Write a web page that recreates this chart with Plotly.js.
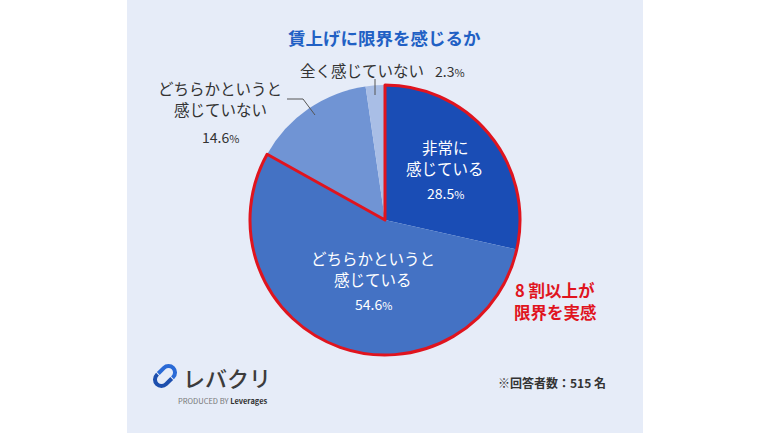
<!DOCTYPE html>
<html>
<head>
<meta charset="utf-8">
<script src="https://cdn.plot.ly/plotly-3.0.1.min.js"></script>
<style>
  html, body { margin: 0; padding: 0; background: #ffffff; }
  #chart { width: 770px; height: 433px; }
</style>
</head>
<body>
<div id="chart"></div>
<script>
// ── 賃上げに限界を感じるか（n=515） ─────────────────────────────
const categories = ['非常に感じている', 'どちらかというと感じている', 'どちらかというと感じていない', '全く感じていない'];
const shares = [28.5, 54.6, 14.6, 2.3];
const sliceColors = ['#1a4db5', '#4472c4', '#7094d4', '#a9bee6'];
const respondents = 515;

const W = 770, H = 433;
const FONT = '"Noto Sans CJK JP", "Noto Sans", sans-serif';
const px = x => x / W;
const py = y => 1 - y / H;

// 8割以上 = 上位2区分の合計
const feelTotal = shares[0] + shares[1];
const restTotal = shares[2] + shares[3];

const pieDomain = { x: [px(250), px(520)], y: [py(355), py(85)] };

const traces = [
  {
    type: 'pie', values: shares, labels: categories, sort: false,
    direction: 'clockwise', rotation: 0, domain: pieDomain,
    marker: { colors: sliceColors, line: { width: 0 } },
    textinfo: 'none', hoverinfo: 'skip', showlegend: false
  },
  {
    type: 'pie', values: [feelTotal, restTotal], labels: ['感じている', '感じていない'],
    sort: false, direction: 'clockwise', rotation: 0, domain: pieDomain,
    marker: { colors: ['rgba(0,0,0,0)', 'rgba(0,0,0,0)'],
              line: { color: ['#e0141e', 'rgba(0,0,0,0)'], width: [3, 0] } },
    textinfo: 'none', hoverinfo: 'skip', showlegend: false
  }
];

const pct = (v, sm) => `${v.toFixed(1)}<span style="font-size:${sm}px">%</span>`;

function txt(x, y, text, opts = {}) {
  return {
    xref: 'paper', yref: 'paper', x: px(x), y: py(y), text: text,
    showarrow: false, xanchor: opts.anchor || 'center', yanchor: 'middle',
    align: opts.align || 'center',
    font: { family: FONT, size: opts.size || 15.5, color: opts.color || '#333333',
            weight: opts.weight || 'normal' }
  };
}

const annotations = [
  txt(384, 37, '賃上げに限界を感じるか', { size: 17.5, color: '#2160c4', weight: 'bold' }),
  // 全く感じていない
  txt(362, 70, '全く感じていない'),
  txt(450, 71, pct(shares[3], 11), { size: 14 }),
  // どちらかというと感じていない
  txt(220, 88, 'どちらかというと'),
  txt(220, 109, '感じていない'),
  txt(220, 137, pct(shares[2], 11), { size: 14 }),
  // 非常に感じている
  txt(445, 147, '非常に', { color: '#ffffff' }),
  txt(445, 168, '感じている', { color: '#ffffff' }),
  txt(445, 193, pct(shares[0], 11), { size: 14, color: '#ffffff' }),
  // どちらかというと感じている
  txt(373, 258, 'どちらかというと', { color: '#ffffff' }),
  txt(373, 279, '感じている', { color: '#ffffff' }),
  txt(373, 304, pct(shares[1], 11), { size: 14, color: '#ffffff' }),
  // 強調
  txt(555, 290, '8 割以上が', { size: 16.5, color: '#e0141e', weight: 'bold' }),
  txt(555, 312, '限界を実感', { size: 16.5, color: '#e0141e', weight: 'bold' }),
  // 回答者数
  txt(552, 382, `※回答者数：${respondents} 名`, { size: 12, color: '#333333', weight: 'bold' }),
  // ロゴ
  txt(181, 377, 'レバクリ', { size: 22, color: '#3c3c3c', anchor: 'left', weight: 500 }),
  txt(223, 400, '<span style="color:#777">PRODUCED BY</span> <b>Leverages</b>', { size: 7.5, color: '#333333' })
];

// リンク風アイコン（2つの半カプセル）
function capsuleHalf(cx, cy, ang, L, r, gap, flip) {
  const s = flip ? -1 : 1;
  const c = Math.cos(ang), sn = Math.sin(ang);
  const P = (u, v) => { u *= s; v *= s; return [cx + u * c - v * sn, cy + u * sn + v * c]; };
  const k = 0.5523 * r;
  const pts = [
    ['M', P(-gap, -r)], ['L', P(L, -r)],
    ['C', P(L + k, -r), P(L + r, -k), P(L + r, 0)],
    ['C', P(L + r, k), P(L + k, r), P(L, r)],
    ['L', P(gap + 1, r)]
  ];
  return pts.map(([cmd, ...ps]) => cmd + ps.map(p => `${px(p[0]).toFixed(5)},${py(p[1]).toFixed(5)}`).join(' ')).join(' ');
}

const iconAng = -Math.PI / 4;
const shapes = [
  { type: 'rect', xref: 'paper', yref: 'paper', x0: px(127), x1: px(643), y0: 0, y1: 1,
    fillcolor: '#e6ecf8', line: { width: 0 }, layer: 'below' },
  // 引き出し線
  { type: 'line', xref: 'paper', yref: 'paper', x0: px(375), y0: py(79), x1: px(375), y1: py(95),
    line: { color: '#555555', width: 1 } },
  { type: 'path', xref: 'paper', yref: 'paper',
    path: `M${px(287)},${py(99)} L${px(303)},${py(99)} L${px(315)},${py(115)}`,
    line: { color: '#555555', width: 1 } },
  { type: 'path', xref: 'paper', yref: 'paper', path: capsuleHalf(165, 376, iconAng, 5, 6.5, 3, false),
    line: { color: '#2a6ad6', width: 4 } },
  { type: 'path', xref: 'paper', yref: 'paper', path: capsuleHalf(165, 376, iconAng, 5, 6.5, 3, true),
    line: { color: '#1d4fae', width: 4 } }
];

const layout = {
  width: W, height: H,
  margin: { l: 0, r: 0, t: 0, b: 0 },
  paper_bgcolor: '#ffffff',
  showlegend: false,
  annotations: annotations,
  shapes: shapes
};

Plotly.newPlot('chart', traces, layout, { displayModeBar: false, staticPlot: true });
</script>
</body>
</html>
